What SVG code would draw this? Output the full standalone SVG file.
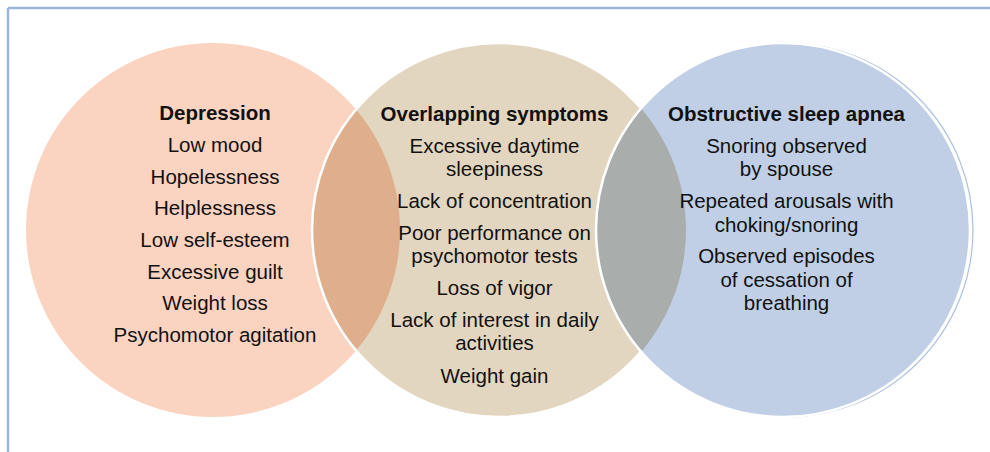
<svg xmlns="http://www.w3.org/2000/svg" width="990" height="452" viewBox="0 0 990 452">
  <style>
    text { font-family: "Liberation Sans", Arial, sans-serif; font-size: 20.5px; fill: #111; text-anchor: middle; }
    .title { font-weight: bold; }
    .frame { stroke: #9cb6d9; stroke-width: 2.5; fill: none; }
    .edge { fill: none; stroke: #ffffff; stroke-width: 2.5; }
  </style>
  <defs>
    <clipPath id="clip-tan"><circle cx="499" cy="230" r="187"/></clipPath>
    <clipPath id="clip-blue"><circle cx="783" cy="230" r="187"/></clipPath>
  </defs>

  <!-- frame lines -->
  <g id="frame">
    <line class="frame" x1="8" y1="8" x2="990" y2="8"/>
    <line class="frame" x1="8" y1="8" x2="8" y2="452"/>
  </g>

  <!-- circles -->
  <g id="depression-circle">
    <circle cx="213" cy="230" r="187" fill="#fbd3c1"/>
  </g>
  <g id="overlap-circle">
    <circle cx="499" cy="230" r="187" fill="#e3d6c0"/>
    <circle cx="213" cy="230" r="187" fill="#dfae8c" clip-path="url(#clip-tan)"/>
    <circle class="edge" cx="499" cy="230" r="187"/>
  </g>
  <g id="osa-circle">
    <!-- thin offset ring showing along the right rim -->
    <circle cx="786" cy="230" r="187" fill="none" stroke="#adc0e0" stroke-width="1.2"/>
    <circle cx="783" cy="230" r="187" fill="#c0cfe5"/>
    <circle cx="499" cy="230" r="187" fill="#a9adac" clip-path="url(#clip-blue)"/>
    <circle class="edge" cx="783" cy="230" r="187"/>
  </g>

  <!-- depression labels -->
  <g id="depression-text">
    <text class="title" x="215" y="120">Depression</text>
    <text x="215" y="152">Low mood</text>
    <text x="215" y="183.5">Hopelessness</text>
    <text x="215" y="215">Helplessness</text>
    <text x="215" y="247">Low self-esteem</text>
    <text x="215" y="278.5">Excessive guilt</text>
    <text x="215" y="310">Weight loss</text>
    <text x="215" y="342">Psychomotor agitation</text>
  </g>

  <!-- overlapping symptoms labels -->
  <g id="overlap-text">
    <text class="title" x="494.5" y="120.5">Overlapping symptoms</text>
    <text x="494.5" y="152.5">Excessive daytime</text>
    <text x="494.5" y="176">sleepiness</text>
    <text x="494.5" y="208">Lack of concentration</text>
    <text x="494.5" y="240">Poor performance on</text>
    <text x="494.5" y="263">psychomotor tests</text>
    <text x="494.5" y="295">Loss of vigor</text>
    <text x="494.5" y="327">Lack of interest in daily</text>
    <text x="494.5" y="350">activities</text>
    <text x="494.5" y="383">Weight gain</text>
  </g>

  <!-- obstructive sleep apnea labels -->
  <g id="osa-text">
    <text class="title" x="786.5" y="120.5">Obstructive sleep apnea</text>
    <text x="786.5" y="152.5">Snoring observed</text>
    <text x="786.5" y="176">by spouse</text>
    <text x="786.5" y="208">Repeated arousals with</text>
    <text x="786.5" y="231.5">choking/snoring</text>
    <text x="786.5" y="263">Observed episodes</text>
    <text x="786.5" y="286.5">of cessation of</text>
    <text x="786.5" y="310">breathing</text>
  </g>
</svg>
